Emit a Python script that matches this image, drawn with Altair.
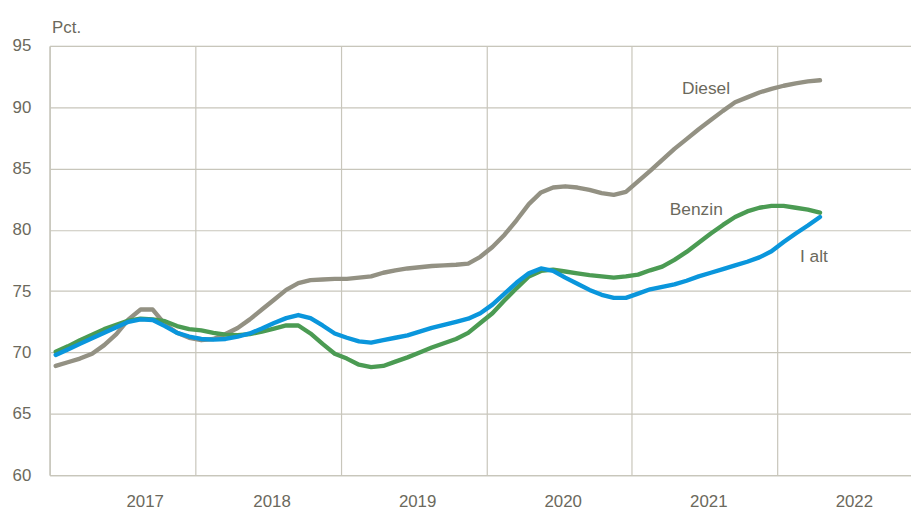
import altair as alt
import pandas as pd

# Monthly values, Jan 2017 .. Apr 2022 (64 months)
diesel = [68.9, 69.2, 69.5, 69.9, 70.6, 71.5, 72.7, 73.5, 73.5, 72.3, 71.6, 71.2,
          71.0, 71.1, 71.5, 72.0, 72.7, 73.5, 74.3, 75.1, 75.65, 75.9, 75.95, 76.0,
          76.0, 76.1, 76.2, 76.5, 76.7, 76.85, 76.95, 77.05, 77.1, 77.15, 77.25, 77.8,
          78.6, 79.6, 80.8, 82.1, 83.05, 83.45, 83.55, 83.45, 83.25, 83.0, 82.85, 83.1,
          83.95, 84.8, 85.7, 86.6, 87.4, 88.2, 88.95, 89.7, 90.4, 90.8, 91.2, 91.5,
          91.75, 91.95, 92.1, 92.2]
benzin = [70.05, 70.5, 71.0, 71.45, 71.9, 72.25, 72.6, 72.75, 72.7, 72.55, 72.15, 71.9,
          71.8, 71.6, 71.45, 71.4, 71.5, 71.7, 71.95, 72.2, 72.2, 71.55, 70.7, 69.9,
          69.5, 69.0, 68.8, 68.9, 69.25, 69.6, 70.0, 70.4, 70.75, 71.1, 71.6, 72.4,
          73.2, 74.25, 75.25, 76.2, 76.65, 76.75, 76.6, 76.45, 76.3, 76.2, 76.1, 76.2,
          76.35, 76.7, 77.0, 77.55, 78.2, 78.95, 79.7, 80.4, 81.05, 81.5, 81.8, 81.95,
          81.95, 81.8, 81.65, 81.4]
i_alt = [69.8, 70.25, 70.7, 71.15, 71.6, 72.05, 72.5, 72.7, 72.65, 72.15, 71.6, 71.3,
         71.1, 71.05, 71.1, 71.3, 71.55, 71.95, 72.4, 72.8, 73.05, 72.8, 72.2, 71.55,
         71.2, 70.9, 70.8, 71.0, 71.2, 71.4, 71.7, 72.0, 72.25, 72.5, 72.75, 73.2,
         73.9, 74.8, 75.7, 76.45, 76.85, 76.65, 76.1, 75.6, 75.1, 74.7, 74.45, 74.45,
         74.8, 75.15, 75.35, 75.55, 75.85, 76.2, 76.5, 76.8, 77.1, 77.4, 77.75, 78.25,
         79.0, 79.7, 80.35, 81.05]

series_names = ["Diesel", "Benzin", "I alt"]
series_colors = ["#939183", "#4B9B53", "#0A96DC"]
years = [2017, 2018, 2019, 2020, 2021, 2022]
y_ticks = [60, 65, 70, 75, 80, 85, 90, 95]

# label anchors (in data units: month index, value)
label_x = [54.1, 53.3, 63.0]
label_y = [91.5, 81.65, 77.75]

rows = []
for name, vals in zip(series_names, [diesel, benzin, i_alt]):
    for i, v in enumerate(vals):
        rows.append({"serie": name, "m": i + 0.5, "v": v})
df = pd.DataFrame(rows)
labels = pd.DataFrame({"serie": series_names, "m": label_x, "v": label_y})

FONT = "Liberation Sans"
TXT = "#6B695C"
GRID = "#C8C6BB"

x_scale = alt.Scale(domain=[0, 71], nice=False, zero=False)
y_scale = alt.Scale(domain=[60, 95], nice=False, zero=False)
color_scale = alt.Scale(domain=series_names, range=series_colors)

lines = alt.Chart(df).mark_line(strokeWidth=4.4, strokeCap="round", strokeJoin="round").encode(
    x=alt.X("m:Q", scale=x_scale,
            axis=alt.Axis(values=[(y - 2017) * 12 for y in years],
                          labelExpr="toString(2017 + datum.value / 12)",
                          labelOffset=77, labelPadding=19, tickSize=0,
                          grid=True, gridColor=GRID, gridWidth=1.2,
                          domainColor=GRID, domainWidth=1.2,
                          labelFont=FONT, labelFontSize=17, labelColor=TXT,
                          title=None)),
    y=alt.Y("v:Q", scale=y_scale,
            axis=alt.Axis(values=y_ticks, tickSize=0, labelPadding=19,
                          grid=True, gridColor=GRID, gridWidth=1.2,
                          domainColor=GRID, domainWidth=1.2,
                          labelFont=FONT, labelFontSize=17, labelColor=TXT,
                          title="Pct.", titleAngle=0, titleAlign="left",
                          titleBaseline="alphabetic", titleX=2, titleY=-14,
                          titleFont=FONT, titleFontSize=17, titleFontWeight="normal",
                          titleColor=TXT)),
    color=alt.Color("serie:N", scale=color_scale, legend=None),
    detail="serie:N",
)

texts = alt.Chart(labels).mark_text(font=FONT, fontSize=17.5, color=TXT,
                                    align="center", baseline="middle").encode(
    x=alt.X("m:Q", scale=x_scale),
    y=alt.Y("v:Q", scale=y_scale),
    text="serie:N",
)

chart = alt.layer(lines, texts).properties(
    width=869, height=433,
    autosize=alt.AutoSizeParams(type="none"),
    padding={"left": 42, "top": 36, "right": 0, "bottom": 33},
).configure_view(stroke=None).configure(background="white")

chart.save("out.html", embed_options={"renderer": "svg", "actions": False})
